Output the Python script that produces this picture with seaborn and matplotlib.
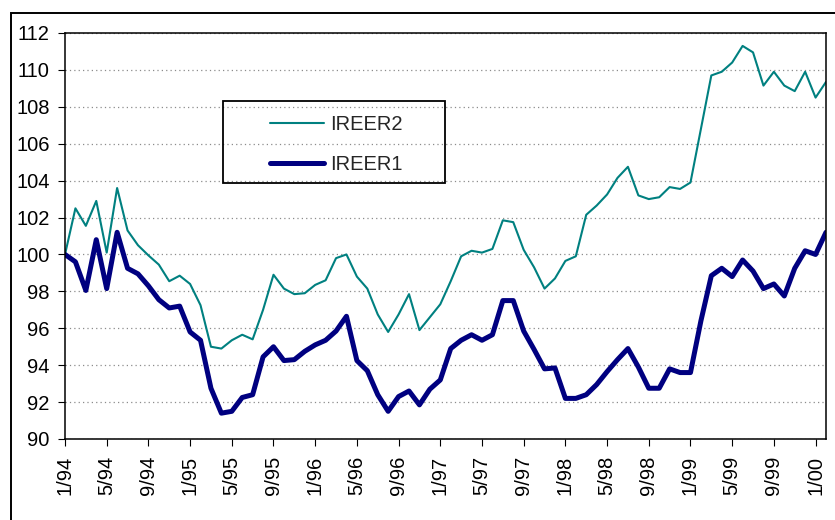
import matplotlib
matplotlib.use('Agg')
import matplotlib.pyplot as plt
from matplotlib.patches import Rectangle
import numpy as np
import seaborn as sns

# monthly index values, 1/94 .. 2/00
ireer1 = [100.0, 99.6, 98.05, 100.8, 98.15, 101.2, 99.25, 98.95, 98.3, 97.55,
          97.1, 97.2, 95.8, 95.35, 92.75, 91.4, 91.5, 92.25, 92.4, 94.45,
          95.0, 94.25, 94.3, 94.75, 95.1, 95.35, 95.85, 96.65, 94.25, 93.7,
          92.4, 91.5, 92.3, 92.6, 91.85, 92.7, 93.2, 94.9, 95.35, 95.65,
          95.35, 95.65, 97.5, 97.5, 95.85, 94.85, 93.8, 93.85, 92.2, 92.2,
          92.4, 92.95, 93.65, 94.3, 94.9, 93.9, 92.75, 92.75, 93.8, 93.6,
          93.6, 96.4, 98.85, 99.25, 98.8, 99.7, 99.1, 98.15, 98.4, 97.75,
          99.25, 100.2, 100.0, 101.2]

ireer2 = [100.0, 102.5, 101.55, 102.9, 100.1, 103.6, 101.3, 100.5, 99.95, 99.45,
          98.55, 98.85, 98.4, 97.25, 95.0, 94.9, 95.35, 95.65, 95.4, 97.0,
          98.9, 98.15, 97.85, 97.9, 98.35, 98.6, 99.8, 100.0, 98.8, 98.15,
          96.75, 95.8, 96.75, 97.85, 95.9, 96.6, 97.3, 98.55, 99.9, 100.2,
          100.1, 100.3, 101.85, 101.75, 100.25, 99.3, 98.15, 98.7, 99.65, 99.9,
          102.15, 102.65, 103.25, 104.15, 104.75, 103.2, 103.0, 103.1, 103.65, 103.55,
          103.9, 106.8, 109.7, 109.9, 110.4, 111.3, 110.95, 109.15, 109.9, 109.15,
          108.85, 109.9, 108.5, 109.35]

tick_labels = ['1/94', '5/94', '9/94', '1/95', '5/95', '9/95', '1/96', '5/96',
               '9/96', '1/97', '5/97', '9/97', '1/98', '5/98', '9/98', '1/99',
               '5/99', '9/99', '1/00']

sns.set_style('ticks')
plt.rcParams['font.family'] = ['Liberation Sans', 'DejaVu Sans']

W, H = 835, 520
fig = plt.figure(figsize=(W / 100, H / 100), dpi=100)
ax = fig.add_axes([65 / W, (H - 439) / H, 761 / W, 406 / H])

months = np.arange(len(ireer1))
sns.lineplot(x=months, y=ireer2, color='#008080', lw=1.5, label='IREER2', ax=ax)
sns.lineplot(x=months, y=ireer1, color='#000080', lw=3.6, label='IREER1', ax=ax)

ax.set_xlim(0, len(ireer1) - 1)
ax.set_ylim(90, 112)
ax.set_yticks(range(90, 113, 2))
ax.set_xticks(months[::4])
ax.set_xticklabels(tick_labels, rotation=90)
ax.set_xlabel('')
ax.set_ylabel('')

ax.grid(axis='y', color='#8c8c8c', linestyle=(0, (1, 2.5)), lw=0.9)
ax.set_axisbelow(True)
for s in ax.spines.values():
  s.set_color('black')
  s.set_linewidth(1.1)

ax.tick_params(axis='both', direction='out', length=5, width=0.8,
               labelsize=14.5, colors='black')
ax.tick_params(axis='y', pad=6)
ax.tick_params(axis='x', pad=7)

# legend with its own box
ax.legend(loc='upper left', bbox_to_anchor=(0.2694, 0.797), frameon=False,
          fontsize=14.5, handlelength=2.7, handletextpad=0.3, labelspacing=1.0,
          borderpad=0, borderaxespad=0)
ax.add_patch(Rectangle((0.2076, 0.6305), 0.2917, 0.202, transform=ax.transAxes,
                       fill=False, ec='black', lw=1.3, zorder=5))

# outer chart frame
fig.add_artist(Rectangle((11 / W, -0.05), 1.1, 1 - 13 / H + 0.05,
                         transform=fig.transFigure, fill=False, ec='black', lw=1.4))

fig.savefig('out.png', dpi=100)
